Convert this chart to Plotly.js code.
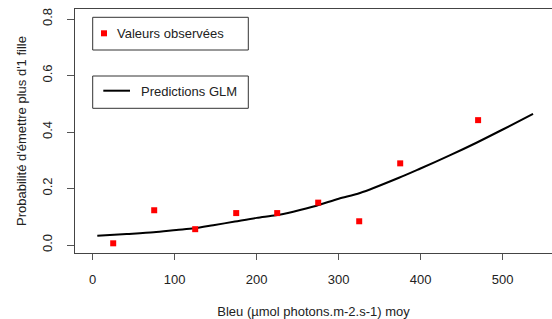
<!DOCTYPE html>
<html>
<head>
<meta charset="utf-8">
<script src="https://cdn.plot.ly/plotly-3.0.1.min.js"></script>
<style>html,body{margin:0;padding:0;background:#fff;}#chart{width:552px;height:319px;}</style>
</head>
<body>
<div id="chart"></div>
<script>
// Observed values
const obsX = [25, 75, 125, 175, 225, 275, 325, 375, 470];
const obsY = [0.006, 0.123, 0.056, 0.113, 0.113, 0.150, 0.084, 0.289, 0.442];
// GLM predictions
const predX = [5.6, 41.5, 74.4, 102, 124, 147, 173.5, 200, 223.5, 244.6, 273, 300, 326, 373.5, 399, 436, 468, 499.5, 537];
const predY = [0.033, 0.039, 0.045, 0.053, 0.059, 0.070, 0.083, 0.096, 0.105, 0.118, 0.139, 0.164, 0.184, 0.238, 0.270, 0.318, 0.362, 0.408, 0.464];
// Ticks and labels
const xTicks = [0, 100, 200, 300, 400, 500];
const yTicks = [0.0, 0.2, 0.4, 0.6, 0.8];
const yTickText = ["0.0", "0.2", "0.4", "0.6", "0.8"];
const legendLabels = ["Valeurs observées", "Predictions GLM"];
const xTitle = "Bleu (µmol photons.m-2.s-1) moy";
const yTitle = "Probabilité d'émettre plus d'1 fille";

const W = 552, H = 319;
const L = 75, R = 552, T = 9, B = 253;
const px = v => (v - L) / (R - L);
const py = v => (B - v) / (B - T);
const FONT = "Liberation Sans, Arial, sans-serif";
const TXT = "#222";
const LN = "#444";

const traces = [
  {x: predX, y: predY, type: "scatter", mode: "lines",
   line: {color: "#000", width: 2, shape: "spline", smoothing: 0.8}, hoverinfo: "skip", showlegend: false},
  {x: obsX, y: obsY, type: "scatter", mode: "markers",
   marker: {symbol: "square", color: "#ff0000", size: 6}, showlegend: false}
];

const shapes = [
  {type: "rect", xref: "paper", yref: "paper", x0: px(92.7), x1: px(248.3), y0: py(50), y1: py(17.3),
   line: {color: "#333", width: 1}, fillcolor: "rgba(0,0,0,0)"},
  {type: "rect", xref: "paper", yref: "paper", x0: px(92.7), x1: px(248.3), y0: py(108.3), y1: py(76),
   line: {color: "#333", width: 1}, fillcolor: "rgba(0,0,0,0)"},
  {type: "rect", xref: "paper", yref: "paper", x0: px(101), x1: px(107), y0: py(36.3), y1: py(30.3),
   line: {width: 0}, fillcolor: "#ff0000"},
  {type: "line", xref: "paper", yref: "paper", x0: px(103.3), x1: px(130), y0: py(90.7), y1: py(90.7),
   line: {color: "#000", width: 2}}
];

const annotations = [
  {xref: "paper", yref: "paper", x: px(115), y: py(33.5), text: legendLabels[0], showarrow: false,
   xanchor: "left", yanchor: "middle", font: {family: FONT, size: 13, color: TXT}},
  {xref: "paper", yref: "paper", x: px(139), y: py(91), text: legendLabels[1], showarrow: false,
   xanchor: "left", yanchor: "middle", font: {family: FONT, size: 13, color: TXT}}
];

const layout = {
  width: W, height: H,
  margin: {l: L, r: W - R, t: T, b: H - B, pad: 0},
  paper_bgcolor: "#fff", plot_bgcolor: "#fff",
  font: {family: FONT, size: 13, color: TXT},
  showlegend: false,
  xaxis: {
    range: [(L - 92.7) / 0.82, (R - 92.7) / 0.82],
    tickvals: xTicks, ticks: "outside", ticklen: 6, tickcolor: "#555", tickwidth: 1,
    showline: true, linecolor: LN, linewidth: 1, mirror: true,
    showgrid: false, zeroline: false, ticklabelstandoff: 8,
    tickfont: {family: FONT, size: 13, color: TXT},
    title: {text: xTitle, font: {family: FONT, size: 13, color: TXT}, standoff: 22}
  },
  yaxis: {
    range: [(245 - B) / 282.5, (245 - T) / 282.5],
    tickvals: yTicks, ticktext: yTickText, ticks: "outside", ticklen: 7, tickcolor: "#555", tickwidth: 1,
    showline: true, linecolor: LN, linewidth: 1, mirror: false,
    showgrid: false, zeroline: false, tickangle: -90, ticklabelstandoff: 10,
    tickfont: {family: FONT, size: 13, color: TXT},
    title: {text: yTitle, font: {family: FONT, size: 13, color: TXT}, standoff: 10}
  },
  shapes: shapes,
  annotations: annotations
};

Plotly.newPlot("chart", traces, layout, {staticPlot: true, displayModeBar: false});
</script>
</body>
</html>
